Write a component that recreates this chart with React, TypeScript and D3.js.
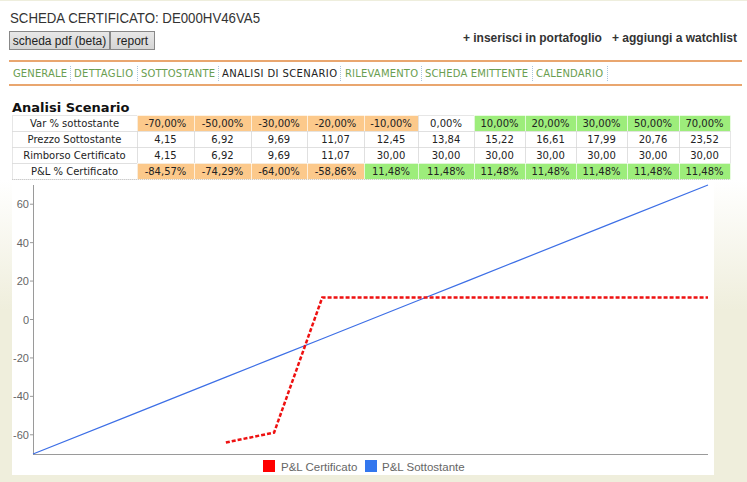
import React from "react";
import * as d3 from "d3";

const title = "SCHEDA CERTIFICATO: DE000HV46VA5";
const buttons = ["scheda pdf (beta)", "report"];
const tabs = ["GENERALE", "DETTAGLIO", "SOTTOSTANTE", "ANALISI DI SCENARIO", "RILEVAMENTO", "SCHEDA EMITTENTE", "CALENDARIO"];
const activeTab = "ANALISI DI SCENARIO";
const rowLabels = ["Var % sottostante", "Prezzo Sottostante", "Rimborso Certificato", "P&L % Certificato"];
const varSottostante = [-70, -50, -30, -20, -10, 0, 10, 20, 30, 50, 70];
const prezzoSottostante = [4.15, 6.92, 9.69, 11.07, 12.45, 13.84, 15.22, 16.61, 17.99, 20.76, 23.52];
const rimborsoCertificato = [4.15, 6.92, 9.69, 11.07, 30.0, 30.0, 30.0, 30.0, 30.0, 30.0, 30.0];
const plCertificato = [-84.57, -74.29, -64.0, -58.86, 11.48, 11.48, 11.48, 11.48, 11.48, 11.48, 11.48];
const yTicks = [-60, -40, -20, 0, 20, 40, 60];
const legendLabels = ["P&L Certificato", "P&L Sottostante"];

const colWidths = [57, 57, 56, 57, 54, 56, 51, 51, 51, 52, 51];

const fmt = (v: number) => v.toFixed(2).replace(".", ",");
const fmtPct = (v: number) => fmt(v) + "%";

const ORANGE = "#fcc98b";
const GREEN = "#9ded7b";
const RED = "#ee1111";
const BLUE = "#3d6fe6";
const VERD = "Verdana, 'DejaVu Sans', sans-serif";
const ARIAL = "'Liberation Sans', Arial, sans-serif";

export default function App() {
  const W = 747, H = 482;
  const x = d3.scaleLinear().domain([-70, 70]).range([33, 708]);
  const y = d3.scaleLinear().domain([-70, 70]).range([454, 185]);

  const sottoPts = varSottostante.map((v) => ({ x: v, y: v }));
  const certPts = varSottostante.map((v, i) => ({ x: v, y: plCertificato[i] }));
  const line = d3
    .line<{ x: number; y: number }>()
    .defined((d) => d.y >= -70)
    .x((d) => x(d.x))
    .y((d) => y(d.y));

  const tableX0 = 12, firstCol = 125, rowH = 16, tableY0 = 115;
  const colX: number[] = [];
  let acc = tableX0 + firstCol;
  colWidths.forEach((w) => { colX.push(acc); acc += w; });
  const tableX1 = acc;

  const rows = [
    varSottostante.map((v) => ({ t: fmtPct(v), bg: v < 0 ? ORANGE : v > 0 ? GREEN : "#fff" })),
    prezzoSottostante.map((v) => ({ t: fmt(v), bg: "#fff" })),
    rimborsoCertificato.map((v) => ({ t: fmt(v), bg: "#fff" })),
    plCertificato.map((v) => ({ t: fmtPct(v), bg: v < 0 ? ORANGE : v > 0 ? GREEN : "#fff" })),
  ];

  const tabStarts = [13, 74, 141, 222, 345, 425, 536];
  const tabSeps = [70, 137, 218, 340, 421, 532, 607];
  const tabWidths = [54, 59, 74, 115, 73, 103, 67];

  return (
    <svg width={W} height={H} style={{ position: "absolute", left: 0, top: 0 }} xmlns="http://www.w3.org/2000/svg">
      <defs>
        <linearGradient id="side" x1="0" y1="0" x2="0" y2="1">
          <stop offset="0" stopColor="#ffffff" />
          <stop offset="1" stopColor="#efeedc" />
        </linearGradient>
        <linearGradient id="btn" x1="0" y1="0" x2="0" y2="1">
          <stop offset="0" stopColor="#e8e8e8" />
          <stop offset="1" stopColor="#d4d4d4" />
        </linearGradient>
      </defs>
      <rect x={0} y={0} width={W} height={H} fill="#ffffff" />
      <rect x={0} y={180} width={W} height={H - 180} fill="#efeedc" />
      <rect x={0} y={180} width={12} height={130} fill="url(#side)" />
      <rect x={714} y={180} width={33} height={130} fill="url(#side)" />
      <rect x={12} y={178} width={702} height={297} fill="#ffffff" />
      <line x1={0} y1={0.5} x2={W} y2={0.5} stroke="#eeeedd" />

      {/* header */}
      <text x={10} y={23} fontFamily={ARIAL} fontSize={14} fill="#333" textLength={250} lengthAdjust="spacingAndGlyphs">{title}</text>
      <rect x={9.5} y={31.5} width={100} height={18} fill="url(#btn)" stroke="#888" />
      <rect x={110.5} y={31.5} width={44} height={18} fill="url(#btn)" stroke="#888" />
      <text x={59.5} y={45} textAnchor="middle" fontFamily={ARIAL} fontSize={12} fill="#222">{buttons[0]}</text>
      <text x={132.5} y={45} textAnchor="middle" fontFamily={ARIAL} fontSize={12} fill="#222">{buttons[1]}</text>
      <text x={737} y={42} textAnchor="end" fontFamily={ARIAL} fontSize={12} fontWeight="bold" fill="#333">
        + inserisci in portafoglio{"\u00a0\u00a0\u00a0"}+ aggiungi a watchlist
      </text>

      <line x1={9} y1={61} x2={742} y2={61} stroke="#e2893f" strokeWidth={1.5} />
      <line x1={9} y1={85} x2={742} y2={85} stroke="#e2893f" strokeWidth={1.5} />
      {tabs.map((t, i) => (
        <g key={t}>
          <text x={tabStarts[i]} y={77} fontFamily={VERD} fontSize={10} fill={t === activeTab ? "#222" : "#6a9e50"} textLength={tabWidths[i]} lengthAdjust="spacing">{t}</text>
          <line x1={tabSeps[i] + 0.5} y1={66} x2={tabSeps[i] + 0.5} y2={81} stroke="#a9c4dc" strokeDasharray="1,1" />
        </g>
      ))}

      {/* table */}
      <text x={12} y={112} fontFamily={VERD} fontSize={13} fontWeight="bold" fill="#111">Analisi Scenario</text>
      {rows.map((row, r) => (
        <g key={r}>
          <rect x={tableX0 + 0.5} y={tableY0 + r * rowH + 0.5} width={firstCol} height={rowH} fill="#fff" stroke="#cccccc" strokeDasharray="1,1" />
          <text x={tableX0 + firstCol / 2} y={tableY0 + r * rowH + 12} textAnchor="middle" fontFamily={VERD} fontSize={10} fill="#222">{rowLabels[r]}</text>
          {row.map((c, i) => (
            <g key={i}>
              <rect x={colX[i] + 0.5} y={tableY0 + r * rowH + 0.5} width={colWidths[i]} height={rowH} fill={c.bg} stroke={c.bg === "#fff" ? "#cccccc" : "#ffffff"} strokeDasharray={c.bg === "#fff" ? "1,1" : "none"} strokeWidth={c.bg === "#fff" ? 1 : 0.5} />
              <text x={colX[i] + colWidths[i] / 2} y={tableY0 + r * rowH + 12} textAnchor="middle" fontFamily={VERD} fontSize={10} fill="#222">{c.t}</text>
            </g>
          ))}
        </g>
      ))}
      <line x1={tableX0} y1={tableY0 + 4 * rowH + 0.5} x2={tableX1} y2={tableY0 + 4 * rowH + 0.5} stroke="#cccccc" strokeDasharray="1,1" />

      {/* chart axes */}
      <line x1={33.5} y1={185} x2={33.5} y2={454} stroke="#9a9a9a" />
      <line x1={33} y1={454.5} x2={708} y2={454.5} stroke="#9a9a9a" />
      {yTicks.map((t) => (
        <g key={t}>
          <line x1={30} y1={y(t)} x2={33} y2={y(t)} stroke="#9a9a9a" />
          <text x={29} y={y(t) + 4} textAnchor="end" fontFamily={ARIAL} fontSize={11} fill="#666">{t}</text>
        </g>
      ))}

      <path d={line(sottoPts) || ""} fill="none" stroke={BLUE} strokeWidth={1.2} />
      <path d={line(certPts) || ""} fill="none" stroke={RED} strokeWidth={2.5} strokeDasharray="4,2" />

      {/* legend */}
      <rect x={263} y={460} width={12} height={12} fill="#ff0000" />
      <text x={281} y={470.5} fontFamily={ARIAL} fontSize={11.5} fill="#666">{legendLabels[0]}</text>
      <rect x={365} y={460} width={12} height={12} fill="#3377ee" />
      <text x={382} y={470.5} fontFamily={ARIAL} fontSize={11.5} fill="#666">{legendLabels[1]}</text>
    </svg>
  );
}
